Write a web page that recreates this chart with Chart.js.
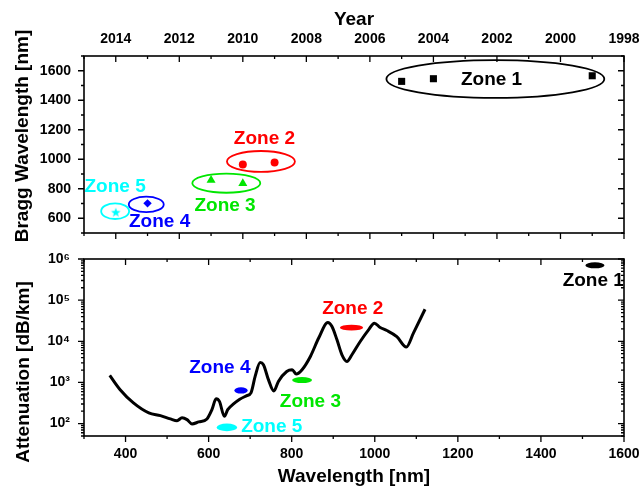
<!DOCTYPE html>
<html><head><meta charset="utf-8">
<script src="https://cdn.jsdelivr.net/npm/chart.js@4.4.1/dist/chart.umd.min.js"></script>
<style>
html,body{margin:0;padding:0;background:#fff;}
#wrap{position:relative;width:640px;height:488px;overflow:hidden;}
canvas{position:absolute;left:0;}
#topc{top:0;} #botc{top:245px;}
</style></head><body>
<div id="wrap"><canvas id="topc" width="640" height="245"></canvas><canvas id="botc" width="640" height="243"></canvas></div>
<script>
// ---------- data ----------
const zoneNames = ['Zone 1','Zone 2','Zone 3','Zone 4','Zone 5'];
const zone1Years = [2005, 2004, 1999];  const zone1Bragg = [1528, 1546, 1566];
const zone2Years = [2010, 2009];        const zone2Bragg = [964, 978];
const zone3Years = [2011, 2010];        const zone3Bragg = [858, 836];
const zone4Years = [2013];              const zone4Bragg = [701];
const zone5Years = [2014];              const zone5Bragg = [638];

const wavelength  = [362, 387, 419, 456, 484, 508, 524, 536, 548, 560, 576, 596, 608, 618, 626, 638, 646, 660, 675, 692, 702, 712, 724, 732, 744, 757, 768, 788, 801, 811, 825, 845, 865, 887, 897, 909, 921, 933, 945, 965, 985, 999, 1013, 1029, 1053, 1076, 1093, 1121];
const attenuation = [1480, 666, 318, 182, 156, 130, 118, 138, 125, 98, 110, 130, 218, 400, 347, 150, 218, 300, 390, 478, 560, 1400, 3060, 2700, 1170, 620, 1060, 1850, 2040, 1600, 2040, 4290, 12000, 28600, 22850, 10860, 4710, 3240, 4710, 9890, 19000, 27600, 21600, 18300, 13000, 7230, 15800, 60200];

// zone regions in the loss panel (wavelength nm, attenuation dB/km)
const zoneLossWl  = [1530, 944, 825, 678, 644];
const zoneLossAtt = [703000, 21500, 1146, 638, 81];

// tick values / labels
const yearTicks  = [2014, 2012, 2010, 2008, 2006, 2004, 2002, 2000, 1998];
const yearMinor  = [2015, 2013, 2011, 2009, 2007, 2005, 2003, 2001, 1999];
const braggTicks = [600, 800, 1000, 1200, 1400, 1600];
const braggMinor = [500, 700, 900, 1100, 1300, 1500, 1700];
const wlTicks    = [400, 600, 800, 1000, 1200, 1400, 1600];
const wlMinor    = [300, 500, 700, 900, 1100, 1300, 1500];
const attTicks   = [100, 1000, 10000, 100000, 1000000];
const attTickLabels = ['10\u00B2', '10\u00B3', '10\u2074', '10\u2075', '10\u2076'];

// ---------- styling / annotation geometry ----------
const FONT = '"Liberation Sans", Arial, Helvetica, sans-serif';
const zoneColors = ['#000000', '#ff0000', '#00e600', '#0000ff', '#00ffff'];
// outline ellipses in the Bragg panel: centre (year, nm), radii (years, nm)
const topEll = [
  {cx: 2002.05, cy: 1544, rx: 3.43, ry: 128},
  {cx: 2009.43, cy: 985,  rx: 1.07, ry: 71},
  {cx: 2010.52, cy: 838,  rx: 1.07, ry: 65},
  {cx: 2013.04, cy: 694,  rx: 0.55, ry: 52},
  {cx: 2014.02, cy: 648,  rx: 0.44, ry: 53}
];
const topLbl = [
  {x: 2002.17, y: 1541}, {x: 2009.32, y: 1136}, {x: 2010.56, y: 685},
  {x: 2012.62, y: 577},  {x: 2014.02, y: 816}
];
// filled ellipse radii in the loss panel: rx in nm, ry in decades
const botEllR = [{rx: 23, ry: 0.073}, {rx: 28, ry: 0.069}, {rx: 24, ry: 0.073}, {rx: 16, ry: 0.076}, {rx: 24.6, ry: 0.093}];
const botLbl = [
  {x: 1526, y: 293000}, {x: 947, y: 61400}, {x: 845, y: 348},
  {x: 627, y: 2240}, {x: 752, y: 86}
];

function starCanvas(r, color) {
  const c = document.createElement('canvas');
  const s = Math.ceil(r * 2 + 2);
  c.width = c.height = s;
  const g = c.getContext('2d');
  g.fillStyle = color; g.beginPath();
  for (let i = 0; i < 10; i++) {
    const a = -Math.PI / 2 + i * Math.PI / 5;
    const rr = i % 2 ? r * 0.42 : r;
    g.lineTo(s / 2 + rr * Math.cos(a), s / 2 + rr * Math.sin(a));
  }
  g.closePath(); g.fill();
  return c;
}

function drawTicks(ctx, scale, vals, len, side, area, inward) {
  ctx.beginPath();
  for (const v of vals) {
    const p = scale.getPixelForValue(v);
    if (side === 'top' || side === 'bottom') {
      if (p < area.left - 0.5 || p > area.right + 0.5) continue;
      const y0 = side === 'top' ? area.top : area.bottom;
      const s = (side === 'top' ? -1 : 1) * (inward ? -1 : 1);
      ctx.moveTo(p, y0); ctx.lineTo(p, y0 + s * len);
    } else {
      if (p < area.top - 0.5 || p > area.bottom + 0.5) continue;
      const x0 = side === 'left' ? area.left : area.right;
      const s = (side === 'left' ? -1 : 1) * (inward ? -1 : 1);
      ctx.moveTo(x0, p); ctx.lineTo(x0 + s * len, p);
    }
  }
  ctx.stroke();
}

function frame(ctx, a) {
  ctx.save();
  ctx.strokeStyle = '#000'; ctx.lineWidth = 1.6;
  ctx.strokeRect(a.left, a.top, a.right - a.left, a.bottom - a.top);
  ctx.restore();
}

function vTitle(ctx, text, x, y) {
  ctx.save();
  ctx.translate(x, y); ctx.rotate(-Math.PI / 2);
  ctx.font = 'bold 19px ' + FONT; ctx.fillStyle = '#000';
  ctx.textAlign = 'center'; ctx.textBaseline = 'middle';
  ctx.fillText(text, 0, 0);
  ctx.restore();
}

function zoneText(ctx, text, x, y, color) {
  ctx.save();
  ctx.font = 'bold 19px ' + FONT; ctx.fillStyle = color;
  ctx.textAlign = 'center'; ctx.textBaseline = 'middle';
  ctx.fillText(text, x, y);
  ctx.restore();
}

function noPad(s) { s.paddingTop = 0; s.paddingBottom = 0; s.paddingLeft = 0; s.paddingRight = 0; }

const tickFont = {family: FONT, size: 14, weight: 'bold'};

// ---------- top chart ----------
const topPlugin = {
  id: 'topDecor',
  afterDatasetsDraw(chart) {
    const ctx = chart.ctx, a = chart.chartArea, xs = chart.scales.x, ys = chart.scales.y;
    topEll.forEach((e, i) => {
      const cx = xs.getPixelForValue(e.cx), cy = ys.getPixelForValue(e.cy);
      const rx = Math.abs(xs.getPixelForValue(e.cx + e.rx) - cx);
      const ry = Math.abs(ys.getPixelForValue(e.cy + e.ry) - cy);
      ctx.save(); ctx.strokeStyle = zoneColors[i]; ctx.lineWidth = 1.8;
      ctx.beginPath(); ctx.ellipse(cx, cy, rx, ry, 0, 0, Math.PI * 2); ctx.stroke(); ctx.restore();
    });
    topLbl.forEach((l, i) => zoneText(ctx, zoneNames[i], xs.getPixelForValue(l.x), ys.getPixelForValue(l.y), zoneColors[i]));
    frame(ctx, a);
    ctx.save(); ctx.strokeStyle = '#000'; ctx.lineWidth = 1.3;
    drawTicks(ctx, xs, yearTicks, 6, 'bottom', a, false);
    drawTicks(ctx, xs, yearMinor, 3, 'bottom', a, false);
    drawTicks(ctx, xs, yearTicks, 6, 'top', a, true);
    drawTicks(ctx, xs, yearMinor, 3, 'top', a, true);
    drawTicks(ctx, ys, braggTicks, 6, 'left', a, false);
    drawTicks(ctx, ys, braggMinor, 3, 'left', a, false);
    drawTicks(ctx, ys, braggTicks, 6, 'right', a, true);
    drawTicks(ctx, ys, braggMinor, 3, 'right', a, true);
    ctx.restore();
    vTitle(ctx, 'Bragg Wavelength [nm]', 23, 136);
  }
};

function pts(xs, ys) { return xs.map((x, i) => ({x: x, y: ys[i]})); }

new Chart(document.getElementById('topc'), {
  type: 'scatter',
  data: {
    datasets: [
      {label: zoneNames[0], data: pts(zone1Years, zone1Bragg), pointStyle: 'rect', pointRadius: 5, backgroundColor: zoneColors[0], borderColor: zoneColors[0], borderWidth: 0},
      {label: zoneNames[1], data: pts(zone2Years, zone2Bragg), pointStyle: 'circle', pointRadius: 4, backgroundColor: zoneColors[1], borderColor: zoneColors[1], borderWidth: 0},
      {label: zoneNames[2], data: pts(zone3Years, zone3Bragg), pointStyle: 'triangle', pointRadius: 5.2, backgroundColor: zoneColors[2], borderColor: zoneColors[2], borderWidth: 0},
      {label: zoneNames[3], data: pts(zone4Years, zone4Bragg), pointStyle: 'rectRot', pointRadius: 4.2, backgroundColor: zoneColors[3], borderColor: zoneColors[3], borderWidth: 0},
      {label: zoneNames[4], data: pts(zone5Years, zone5Bragg), pointStyle: starCanvas(5, zoneColors[4]), pointRadius: 5, backgroundColor: zoneColors[4], borderColor: zoneColors[4], borderWidth: 0}
    ]
  },
  options: {
    responsive: false, animation: false, devicePixelRatio: 1,
    layout: {padding: {top: 0, left: 0, right: 16, bottom: 12}},
    plugins: {legend: {display: false}, tooltip: {enabled: false}},
    scales: {
      x: {
        type: 'linear', position: 'top', reverse: true, min: 1998, max: 2015,
        afterBuildTicks: s => { s.ticks = yearTicks.map(v => ({value: v})); },
        afterFit: s => { s.height = 56; noPad(s); },
        grid: {display: false, drawTicks: false}, border: {display: false},
        ticks: {font: tickFont, color: '#000', padding: 8, maxRotation: 0, autoSkip: false, callback: v => String(v)},
        title: {display: true, text: 'Year', color: '#000', font: {family: FONT, size: 19, weight: 'bold'}, padding: {top: 8, bottom: 0}}
      },
      y: {
        type: 'linear', min: 500, max: 1700,
        afterBuildTicks: s => { s.ticks = braggTicks.map(v => ({value: v})); },
        afterFit: s => { s.width = 84; noPad(s); },
        grid: {display: false, drawTicks: false}, border: {display: false},
        ticks: {font: tickFont, color: '#000', padding: 13, callback: v => String(v)}
      }
    }
  },
  plugins: [topPlugin]
});

// ---------- bottom chart ----------
const botPlugin = {
  id: 'botDecor',
  afterDatasetsDraw(chart) {
    const ctx = chart.ctx, a = chart.chartArea, xs = chart.scales.x, ys = chart.scales.y;
    zoneLossWl.forEach((w, i) => {
      const cx = xs.getPixelForValue(w), cy = ys.getPixelForValue(zoneLossAtt[i]);
      const rx = Math.abs(xs.getPixelForValue(w + botEllR[i].rx) - cx);
      const ry = Math.abs(ys.getPixelForValue(zoneLossAtt[i] * Math.pow(10, botEllR[i].ry)) - cy);
      ctx.save(); ctx.fillStyle = zoneColors[i];
      ctx.beginPath(); ctx.ellipse(cx, cy, rx, ry, 0, 0, Math.PI * 2); ctx.fill(); ctx.restore();
    });
    botLbl.forEach((l, i) => zoneText(ctx, zoneNames[i], xs.getPixelForValue(l.x), ys.getPixelForValue(l.y), zoneColors[i]));
    frame(ctx, a);
    const minor = [];
    for (let d = 10; d <= 100000; d *= 10) for (let m = 2; m <= 9; m++) minor.push(m * d);
    ctx.save(); ctx.strokeStyle = '#000'; ctx.lineWidth = 1.3;
    drawTicks(ctx, xs, wlTicks, 6, 'bottom', a, false);
    drawTicks(ctx, xs, wlMinor, 3, 'bottom', a, false);
    drawTicks(ctx, xs, wlTicks, 6, 'top', a, true);
    drawTicks(ctx, xs, wlMinor, 3, 'top', a, true);
    drawTicks(ctx, ys, attTicks, 6, 'left', a, false);
    drawTicks(ctx, ys, minor, 3, 'left', a, false);
    drawTicks(ctx, ys, attTicks, 6, 'right', a, true);
    drawTicks(ctx, ys, minor, 3, 'right', a, true);
    ctx.restore();
    vTitle(ctx, 'Attenuation [dB/km]', 24, 127);
  }
};

new Chart(document.getElementById('botc'), {
  type: 'scatter',
  data: {
    datasets: [{
      label: 'Attenuation', data: pts(wavelength, attenuation), showLine: true,
      borderColor: '#000', borderWidth: 3, pointRadius: 0, cubicInterpolationMode: 'monotone', fill: false
    }]
  },
  options: {
    responsive: false, animation: false, devicePixelRatio: 1,
    layout: {padding: {top: 14, left: 0, right: 16, bottom: 0}},
    plugins: {legend: {display: false}, tooltip: {enabled: false}},
    scales: {
      x: {
        type: 'linear', min: 300, max: 1600,
        afterBuildTicks: s => { s.ticks = wlTicks.map(v => ({value: v})); },
        afterFit: s => { s.height = 52; noPad(s); },
        grid: {display: false, drawTicks: false}, border: {display: false},
        ticks: {font: tickFont, color: '#000', padding: 10, maxRotation: 0, autoSkip: false, callback: v => String(v)},
        title: {display: true, text: 'Wavelength [nm]', color: '#000', font: {family: FONT, size: 19, weight: 'bold'}, padding: {top: 0, bottom: 0}}
      },
      y: {
        type: 'logarithmic', min: 50, max: 1000000,
        afterBuildTicks: s => { s.ticks = attTicks.map(v => ({value: v})); },
        afterFit: s => { s.width = 84; noPad(s); },
        grid: {display: false, drawTicks: false}, border: {display: false},
        ticks: {font: tickFont, color: '#000', padding: 14, callback: v => { const i = attTicks.indexOf(v); return i >= 0 ? attTickLabels[i] : ''; }}
      }
    }
  },
  plugins: [botPlugin]
});
</script>
</body></html>
